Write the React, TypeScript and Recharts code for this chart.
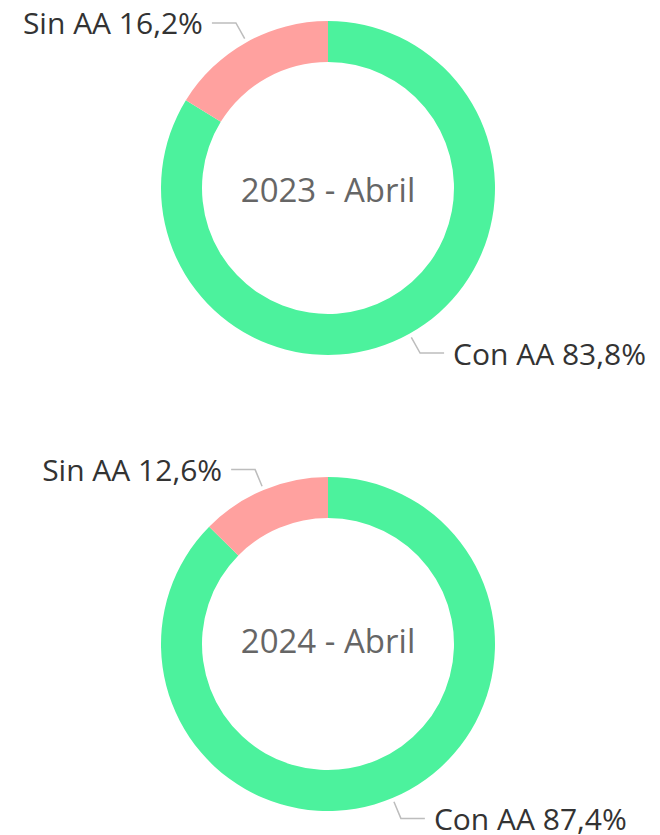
import { PieChart, Pie, Cell } from 'recharts'

const categories = ['Con AA', 'Sin AA']
const values2023 = [83.8, 16.2]
const values2024 = [87.4, 12.6]
const titles = ['2023 - Abril', '2024 - Abril']

const COLORS = ['#4cf29d', '#ffa19f']
const FONT = '"Open Sans", sans-serif'
const RAD = Math.PI / 180

function toData(values: number[]) {
  return categories.map((name, i) => ({ name, value: values[i] }))
}

function fmtPct(v: number) {
  return v.toFixed(1).replace('.', ',') + '%'
}

// label with an elbow line: out from the ring, then horizontal
// the first slice also draws the title in the hole
function makeLabel(title: string, titleDy: number) {
  return (props: any) => {
    const { cx, cy, midAngle, outerRadius, name, value, index } = props
    const cos = Math.cos(-midAngle * RAD)
    const sin = Math.sin(-midAngle * RAD)
    const sx = cx + (outerRadius + 4) * cos
    const sy = cy + (outerRadius + 4) * sin
    const mx = cx + (outerRadius + 22) * cos
    const my = cy + (outerRadius + 22) * sin
    const dir = cos >= 0 ? 1 : -1
    const ex = mx + dir * 24
    return (
      <g>
        <polyline points={`${sx},${sy} ${mx},${my} ${ex},${my}`} fill="none" stroke="#bdbdbd" strokeWidth={1.5} />
        <text
          x={ex + dir * 9}
          y={my}
          textAnchor={dir > 0 ? 'start' : 'end'}
          dominantBaseline="central"
          fill="#333"
          fontSize={30}
          fontFamily={FONT}
        >
          {`${name} ${fmtPct(value)}`}
        </text>
        {index === 0 && (
          <text
            x={cx}
            y={cy + titleDy}
            textAnchor="middle"
            dominantBaseline="central"
            fill="#666"
            fontSize={33}
            fontFamily={FONT}
          >
            {title}
          </text>
        )}
      </g>
    )
  }
}

function Donut({ values, title, titleDy, height, cy }: { values: number[]; title: string; titleDy: number; height: number; cy: number }) {
  const data = toData(values)
  return (
    <PieChart width={660} height={height} margin={{ top: 0, right: 0, bottom: 0, left: 0 }} style={{ overflow: 'visible' }}>
      <Pie
        data={data}
        dataKey="value"
        nameKey="name"
        cx={328}
        cy={cy}
        innerRadius={126}
        outerRadius={167}
        startAngle={90}
        endAngle={-270}
        stroke="none"
        label={makeLabel(title, titleDy)}
        labelLine={false}
        isAnimationActive={false}
      >
        {data.map((_, i) => (
          <Cell key={i} fill={COLORS[i]} />
        ))}
      </Pie>
    </PieChart>
  )
}

export default function App() {
  return (
    <div style={{ position: 'absolute', left: 0, top: 0, width: 660, height: 835, background: '#fff' }}>
      <Donut values={values2023} title={titles[0]} titleDy={1} height={417} cy={188} />
      <Donut values={values2024} title={titles[1]} titleDy={-4} height={418} cy={227} />
    </div>
  )
}
